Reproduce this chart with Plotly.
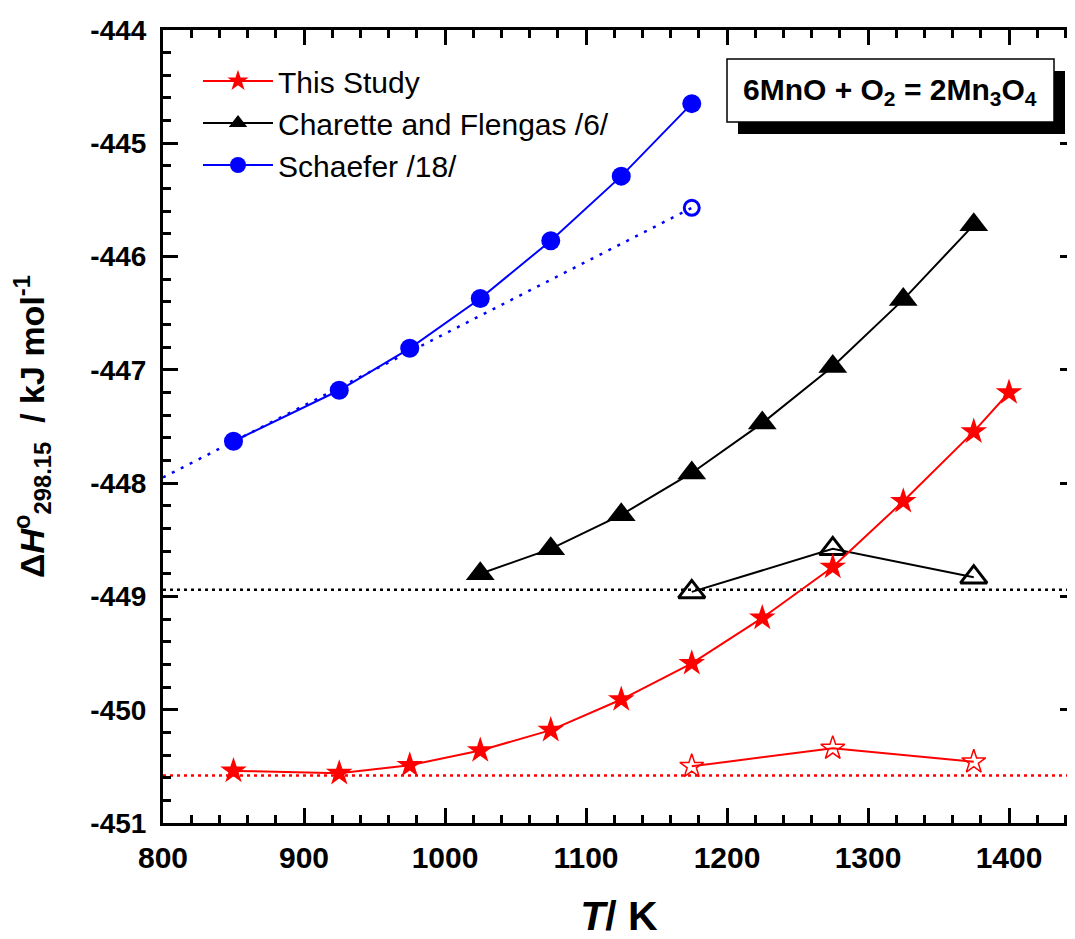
import plotly.graph_objects as go

# ---------------- data ----------------
study_T = [850, 925, 975, 1025, 1075, 1125, 1175, 1225, 1275, 1325, 1375, 1400]
study_H = [-450.54, -450.56, -450.49, -450.36, -450.18, -449.91, -449.59, -449.19, -448.74, -448.16, -447.545, -447.20]
study_open_T = [1175, 1275, 1375]
study_open_H = [-450.50, -450.34, -450.46]
study_level = -450.58

char_T = [1025, 1075, 1125, 1175, 1225, 1275, 1325, 1375]
char_H = [-448.80, -448.58, -448.28, -447.91, -447.47, -446.97, -446.38, -445.72]
char_open_T = [1175, 1275, 1375]
char_open_H = [-448.96, -448.58, -448.83]
char_level = -448.94

sch_T = [850, 925, 975, 1025, 1075, 1125, 1175]
sch_H = [-447.63, -447.18, -446.81, -446.37, -445.86, -445.29, -444.65]
sch_fit_T = [800, 1175]
sch_fit_H = [-447.95, -445.57]
sch_open_T = [1175]
sch_open_H = [-445.57]

x_range = [800, 1446.8]
y_range = [-451, -444]
x_ticks = [800, 900, 1000, 1100, 1200, 1300, 1400]
x_ticktext = ["800", "900", "1000", "1100", "1200", "1300", "1400"]
y_ticks = [-451, -450, -449, -448, -447, -446, -445, -444]
y_ticktext = ["-451", "-450", "-449", "-448", "-447", "-446", "-445", "-444"]

RED = "#ff0000"
BLACK = "#000000"
BLUE = "#0000ff"
FONT = "Arial, Liberation Sans, sans-serif"

# the page body adds an 8 px margin, so the figure is shifted by 8 px
OFF = 8
W, H = 1067, 931
ML, MR, MT, MB = 155, 0, 22, 116
PW, PH = W - ML - MR, H - MT - MB


def px(page_x):
    return (page_x - OFF - ML) / PW


def py(page_y):
    return (H - MB - (page_y - OFF)) / PH


fig = go.Figure()

# horizontal dotted reference levels
fig.add_trace(go.Scatter(x=x_range, y=[char_level, char_level], mode="lines",
                         line=dict(color=BLACK, width=2.5, dash="3px,4px"),
                         showlegend=False, hoverinfo="skip"))
fig.add_trace(go.Scatter(x=x_range, y=[study_level, study_level], mode="lines",
                         line=dict(color=RED, width=2.5, dash="3px,4px"),
                         showlegend=False, hoverinfo="skip"))
# Schaefer dotted fit
fig.add_trace(go.Scatter(x=sch_fit_T, y=sch_fit_H, mode="lines",
                         line=dict(color=BLUE, width=2.5, dash="3px,7px"),
                         showlegend=False, hoverinfo="skip"))

# open-symbol series
fig.add_trace(go.Scatter(x=study_open_T, y=study_open_H, mode="lines+markers",
                         line=dict(color=RED, width=2),
                         marker=dict(symbol="star-open", size=18, color=RED, line=dict(width=1.5, color=RED)),
                         showlegend=False))
fig.add_trace(go.Scatter(x=char_open_T, y=char_open_H, mode="lines+markers",
                         line=dict(color=BLACK, width=2),
                         marker=dict(symbol="triangle-up-open", size=23, color=BLACK, line=dict(width=3, color=BLACK)),
                         showlegend=False))
fig.add_trace(go.Scatter(x=sch_open_T, y=sch_open_H, mode="markers",
                         marker=dict(symbol="circle-open", size=15, color=BLUE, line=dict(width=3, color=BLUE)),
                         showlegend=False))

# main series
fig.add_trace(go.Scatter(x=study_T, y=study_H, mode="lines+markers", name="This Study",
                         line=dict(color=RED, width=2),
                         marker=dict(symbol="star", size=20, color=RED)))
fig.add_trace(go.Scatter(x=char_T, y=char_H, mode="lines+markers", name="Charette and Flengas /6/",
                         line=dict(color=BLACK, width=2),
                         marker=dict(symbol="triangle-up", size=25, color=BLACK)))
fig.add_trace(go.Scatter(x=sch_T, y=sch_H, mode="lines+markers", name="Schaefer /18/",
                         line=dict(color=BLUE, width=2),
                         marker=dict(symbol="circle", size=19, color=BLUE)))

axis_common = dict(
    showline=True, linecolor=BLACK, linewidth=3, mirror="ticks",
    ticks="inside", ticklen=15, tickwidth=3, tickcolor=BLACK,
    showgrid=False, zeroline=False, automargin=False,
)

fig.update_xaxes(
    range=x_range, tickvals=x_ticks, ticktext=x_ticktext,
    tickfont=dict(family=FONT, size=30, color=BLACK, weight="bold"),
    minor=dict(dtick=20, tick0=800, ticks="inside", ticklen=8, tickwidth=2.5, tickcolor=BLACK, showgrid=False),
    title=dict(text="<i>T</i>/ K", font=dict(family=FONT, size=41, color=BLACK, weight="bold"), standoff=40),
    ticklabelstandoff=6,
    **axis_common,
)
fig.update_yaxes(
    range=y_range, tickvals=y_ticks, ticktext=y_ticktext,
    tickfont=dict(family=FONT, size=28, color=BLACK, weight="bold"),
    minor=dict(dtick=0.2, tick0=-451, ticks="inside", ticklen=8, tickwidth=2.5, tickcolor=BLACK, showgrid=False),
    title=dict(text="Δ<i>H</i><sup>o</sup><sub>298.15</sub>  / kJ mol<sup>-1</sup>",
               font=dict(family=FONT, size=34, color=BLACK, weight="bold"), standoff=36),
    ticklabelstandoff=8,
    **axis_common,
)

# reaction label box with shadow
fig.add_shape(type="rect", xref="paper", yref="paper",
              x0=px(738), x1=px(1065), y0=py(134), y1=py(71),
              fillcolor=BLACK, line=dict(width=0), layer="above")
fig.add_shape(type="rect", xref="paper", yref="paper",
              x0=px(727), x1=px(1054), y0=py(122), y1=py(59),
              fillcolor="white", line=dict(color=BLACK, width=1.5), layer="above")
fig.add_annotation(xref="paper", yref="paper", x=px(890), y=py(92),
                   text="6MnO + O<sub>2</sub> = 2Mn<sub>3</sub>O<sub>4</sub>",
                   showarrow=False, xanchor="center", yanchor="middle",
                   font=dict(family=FONT, size=30, color=BLACK, weight="bold"))

fig.update_layout(
    width=W, height=H,
    margin=dict(l=ML, r=MR, t=MT, b=MB, autoexpand=False),
    paper_bgcolor="white", plot_bgcolor="white",
    showlegend=True,
    legend=dict(x=px(198), y=py(55), xanchor="left", yanchor="top",
                bgcolor="rgba(0,0,0,0)", borderwidth=0,
                font=dict(family=FONT, size=30, color=BLACK),
                itemwidth=70, tracegroupgap=0),
)

fig.write_html("out.html")
